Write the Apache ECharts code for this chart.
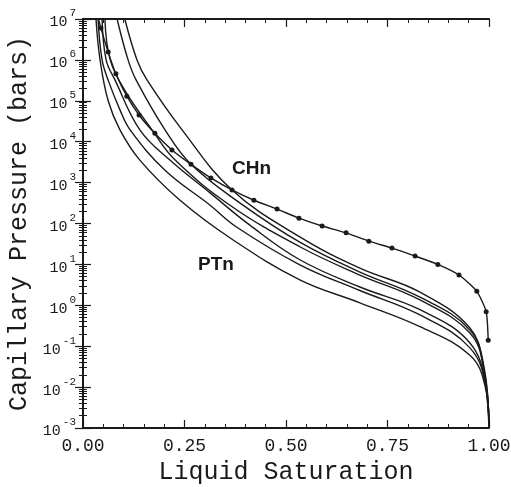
<!DOCTYPE html>
<html><head><meta charset="utf-8">
<script src="https://cdn.jsdelivr.net/npm/echarts@6/dist/echarts.min.js"></script>
<style>html,body{margin:0;padding:0;background:#fff}#c{width:511px;height:487px}</style>
</head><body><div id="c"></div>
<script>
// x: liquid saturation, y: capillary pressure (bars)
const chnCurve = [
  [0.038, 1e7], [0.044, 6.0e6], [0.062, 1.55e6], [0.081, 4.6e5], [0.108, 1.3e5], [0.138, 4.5e4],
  [0.177, 1.6e4], [0.219, 6.3e3], [0.266, 2.8e3], [0.315, 1.3e3], [0.367, 660],
  [0.421, 370], [0.478, 225], [0.532, 135], [0.589, 87], [0.648, 59], [0.704, 37],
  [0.761, 25], [0.818, 16], [0.874, 10], [0.926, 5.5], [0.970, 2.2], [0.993, 0.7], [0.998, 0.14]
];
const ptnA = [[0.032,1e7],[0.042,1e6],[0.062,1e5],[0.091,1.95e4],[0.140,3.55e3],[0.239,370],[0.369,40],[0.534,4.2],[0.682,1.15],[0.830,0.3],[0.953,0.06],[0.990,0.011],[1.0,1e-3]];
const ptnB = [[0.037,1e7],[0.047,1e6],[0.062,3.2e5],[0.091,6.0e4],[0.116,1.95e4],[0.202,2.0e3],[0.313,280],[0.379,81],[0.534,9.8],[0.682,2.3],[0.830,0.58],[0.953,0.091],[0.993,0.0095],[1.0,1e-3]];
const ptnC = [[0.047,1e7],[0.057,1e6],[0.079,3.2e5],[0.140,1.95e4],[0.214,3.55e3],[0.313,560],[0.411,91],[0.534,13],[0.682,2.8],[0.830,0.78],[0.953,0.12],[0.993,0.0095],[1.0,1e-3]];
const ptnD = [[0.054,1e7],[0.067,1e6],[0.103,1.8e5],[0.170,1.95e4],[0.227,3.55e3],[0.362,280],[0.534,27],[0.682,5.5],[0.830,1.35],[0.953,0.21],[0.988,0.026],[1.0,1e-3]];
const ptnE = [[0.084,1e7],[0.111,1e6],[0.131,3.2e5],[0.202,1.95e4],[0.266,2.8e3],[0.387,316],[0.534,35],[0.682,6.5],[0.830,1.58],[0.953,0.25],[0.988,0.03],[1.0,1e-3]];
const ptnF = [[0.103,1e7],[0.133,1e6],[0.158,3.2e5],[0.244,1.95e4],[0.367,660],[0.534,47],[0.682,8.1],[0.830,2.1],[0.953,0.28],[0.985,0.035],[1.0,1e-3]];
const ptnCurves = [ptnA, ptnB, ptnC, ptnD, ptnE, ptnF];
const xTickLabels = ['0.00', '0.25', '0.50', '0.75', '1.00'];
const curveLabels = ['CHn', 'PTn'];

const INK = '#1a1a1a';
const mono = 'Liberation Mono';
const chart = echarts.init(document.getElementById('c'));

function xAxisCfg(show) {
  return {
    type: 'value', min: 0, max: 1, interval: 0.25,
    position: show ? 'bottom' : 'top',
    name: show ? 'Liquid Saturation' : '',
    nameLocation: 'middle', nameGap: 31,
    nameTextStyle: { fontFamily: mono, fontSize: 25, color: INK },
    axisLine: { show: true, onZero: false, lineStyle: { color: INK, width: 2 } },
    axisTick: { show: true, inside: true, length: 8, lineStyle: { color: INK, width: 1.2 } },
    minorTick: { show: true, splitNumber: 5, length: 4, lineStyle: { color: INK, width: 1 } },
    axisLabel: { show: show, margin: 9, fontFamily: mono, fontSize: 18, color: INK,
      formatter: v => xTickLabels[Math.round(v / 0.25)] },
    splitLine: { show: false }
  };
}
function yAxisCfg(show) {
  return {
    type: 'log', logBase: 10, min: 1e-3, max: 1e7, interval: 1,
    position: show ? 'left' : 'right',
    name: show ? 'Capillary Pressure (bars)' : '',
    nameLocation: 'middle', nameGap: 49, nameRotate: 90,
    nameTextStyle: { fontFamily: mono, fontSize: 25, color: INK },
    axisLine: { show: true, lineStyle: { color: INK, width: 2 } },
    axisTick: { show: true, inside: true, length: 8, lineStyle: { color: INK, width: 1.2 } },
    minorTick: { show: true, splitNumber: 9, length: 4, lineStyle: { color: INK, width: 1 } },
    axisLabel: { show: show, margin: 7, color: INK,
      formatter: v => '{b|10}{s|' + Math.round(Math.log10(v)) + '}',
      rich: {
        b: { fontFamily: mono, fontSize: 15, color: INK, lineHeight: 22, verticalAlign: 'bottom' },
        s: { fontFamily: mono, fontSize: 11, color: INK, verticalAlign: 'top', lineHeight: 22, padding: [0, 0, 0, 2] }
      } },
    splitLine: { show: false }
  };
}

const series = ptnCurves.map((d, i) => ({
  type: 'line', name: 'PTn' + (i + 1), data: d, xAxisIndex: 0, yAxisIndex: 0,
  smooth: 0.4, showSymbol: false, symbol: 'none',
  lineStyle: { color: INK, width: 1.4 }, clip: true, z: 3
}));
series.push({
  type: 'line', name: 'CHn', xAxisIndex: 0, yAxisIndex: 0,
  data: chnCurve.map((p, i) => i === 0 ? { value: p, symbol: 'none' } : p),
  smooth: 0.2, symbol: 'circle', symbolSize: 5, showSymbol: true,
  itemStyle: { color: INK }, lineStyle: { color: INK, width: 1.4 }, clip: true, z: 4
});

chart.setOption({
  animation: false,
  backgroundColor: '#fff',
  grid: { left: 83, right: 22, top: 19, bottom: 59, containLabel: false, outerBoundsMode: 'none' },
  xAxis: [xAxisCfg(true), xAxisCfg(false)],
  yAxis: [yAxisCfg(true), yAxisCfg(false)],
  series: series,
  graphic: [
    { type: 'text', left: 232, top: 159, style: { text: curveLabels[0], font: 'bold 19px "Liberation Sans"', fill: INK } },
    { type: 'text', left: 198, top: 255, style: { text: curveLabels[1], font: 'bold 19px "Liberation Sans"', fill: INK } }
  ]
});
</script></body></html>
